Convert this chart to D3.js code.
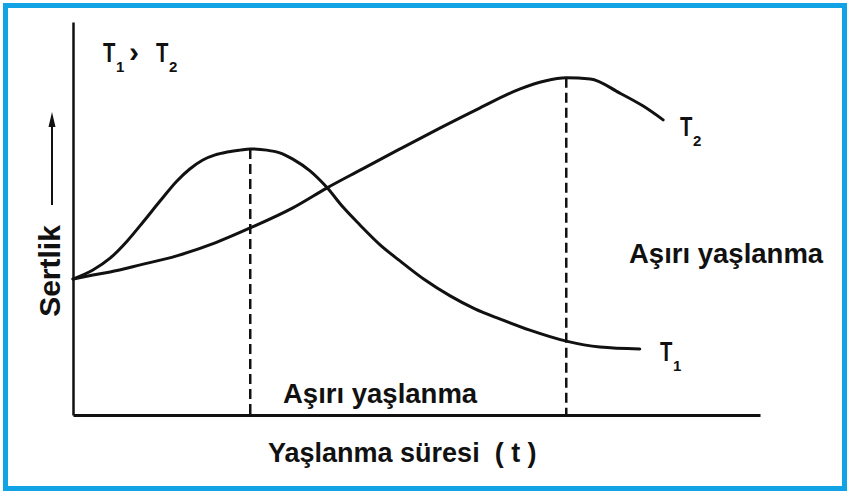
<!DOCTYPE html>
<html>
<head>
<meta charset="utf-8">
<script src="https://cdn.jsdelivr.net/npm/d3@7/dist/d3.min.js"></script>
<style>
  html, body { margin: 0; padding: 0; background: #fff; }
  svg text { font-family: "Liberation Sans", Arial, Helvetica, sans-serif; font-weight: bold; fill: #111; }
</style>
</head>
<body>
<svg id="chart" width="850" height="493"></svg>
<script>
// Aging time (t, arbitrary units) and hardness (arbitrary units) for two aging temperatures
const timeT1 = [0, 0.29, 0.54, 0.79, 1.02, 1.27, 1.51, 1.70, 1.89, 2.07, 2.24, 2.43, 2.58, 2.82, 3.01, 3.20, 3.45, 3.70, 3.93, 4.18, 4.47, 4.76, 5.12, 5.49, 5.85, 6.22, 6.65, 7.18, 7.67, 8.25];
const hardT1 = [3.46, 3.69, 3.99, 4.43, 4.91, 5.45, 5.95, 6.26, 6.49, 6.62, 6.69, 6.74, 6.77, 6.74, 6.67, 6.51, 6.21, 5.78, 5.29, 4.83, 4.33, 3.92, 3.44, 3.03, 2.70, 2.44, 2.16, 1.88, 1.73, 1.68];

const timeT2 = [0, 0.29, 0.54, 0.98, 1.51, 2.07, 2.58, 3.20, 3.70, 4.18, 4.76, 5.34, 5.92, 6.51, 6.87, 7.18, 7.53, 7.96, 8.30, 8.59];
const hardT2 = [3.46, 3.56, 3.64, 3.82, 4.05, 4.38, 4.76, 5.27, 5.78, 6.23, 6.77, 7.30, 7.81, 8.30, 8.50, 8.58, 8.55, 8.19, 7.86, 7.51];

// Peak (maximum hardness) times, marked with dashed drop lines
const peakTimes = [2.58, 7.18];
const peakHard = [6.77, 8.58];

const svg = d3.select("#chart");

// Frame
svg.append("rect")
  .attr("x", 5.5).attr("y", 5.5)
  .attr("width", 839).attr("height", 483)
  .attr("fill", "#fff")
  .attr("stroke", "#12a2e6").attr("stroke-width", 5);

const x = d3.scaleLinear().domain([0, 10]).range([73, 760]);
const y = d3.scaleLinear().domain([0, 10]).range([415, 22]);

// Axes (plain lines, no ticks)
const xAxis = d3.axisBottom(x).tickValues([]).tickSizeOuter(0);
const yAxis = d3.axisLeft(y).tickValues([]).tickSizeOuter(0);
svg.append("g").attr("transform", `translate(0,${y(0)})`).call(xAxis)
  .select(".domain").attr("stroke", "#111").attr("stroke-width", 3);
svg.append("g").attr("transform", `translate(${x(0)},0)`).call(yAxis)
  .select(".domain").attr("stroke", "#111").attr("stroke-width", 2.5);

// Dashed drop lines at the hardness peaks
svg.selectAll("line.peak").data(peakTimes).join("line")
  .attr("class", "peak")
  .attr("x1", d => x(d)).attr("x2", d => x(d))
  .attr("y1", (d, i) => y(peakHard[i]))
  .attr("y2", y(0))
  .attr("stroke", "#111").attr("stroke-width", 2.5)
  .attr("stroke-dasharray", "10,5");

// Hardness curves
const line = d3.line()
  .x(d => x(d[0])).y(d => y(d[1]))
  .curve(d3.curveMonotoneX);

const series = [
  d3.zip(timeT1, hardT1),
  d3.zip(timeT2, hardT2)
];
svg.selectAll("path.curve").data(series).join("path")
  .attr("class", "curve")
  .attr("d", line)
  .attr("fill", "none")
  .attr("stroke", "#111")
  .attr("stroke-width", 3)
  .attr("stroke-linecap", "round");

// Hardness arrow beside the y axis
svg.append("line")
  .attr("x1", 52).attr("x2", 52).attr("y1", 205).attr("y2", 124)
  .attr("stroke", "#111").attr("stroke-width", 2);
svg.append("path")
  .attr("d", "M52,112 L48.5,127 L55.5,127 Z")
  .attr("fill", "#111");

// Y label
svg.append("text")
  .attr("transform", "translate(60,271) rotate(-90)")
  .attr("text-anchor", "middle")
  .attr("font-size", 30)
  .text("Sertlik");

// X label
svg.append("text")
  .attr("x", 268).attr("y", 462)
  .attr("font-size", 27)
  .style("white-space", "pre")
  .text("Yaşlanma süresi  ( t )");

// Region labels
svg.append("text")
  .attr("x", 283).attr("y", 403)
  .attr("font-size", 27.5)
  .text("Aşırı yaşlanma");
svg.append("text")
  .attr("x", 629).attr("y", 263)
  .attr("font-size", 27.5)
  .text("Aşırı yaşlanma");

// Subscripted temperature labels
function tLabel(xp, yp, sub) {
  svg.append("text")
    .attr("x", xp).attr("y", yp)
    .attr("font-size", 27)
    .attr("transform", `translate(${xp},0) scale(0.75,1) translate(${-xp},0)`)
    .text("T");
  svg.append("text")
    .attr("x", xp + 13).attr("y", yp + 10)
    .attr("font-size", 15)
    .text(sub);
}
tLabel(103, 62, "1");
svg.append("text")
  .attr("x", 129).attr("y", 62)
  .attr("font-size", 30)
  .text("›");
tLabel(156, 62, "2");
tLabel(680, 136, "2");
tLabel(660, 361, "1");
</script>
</body>
</html>
